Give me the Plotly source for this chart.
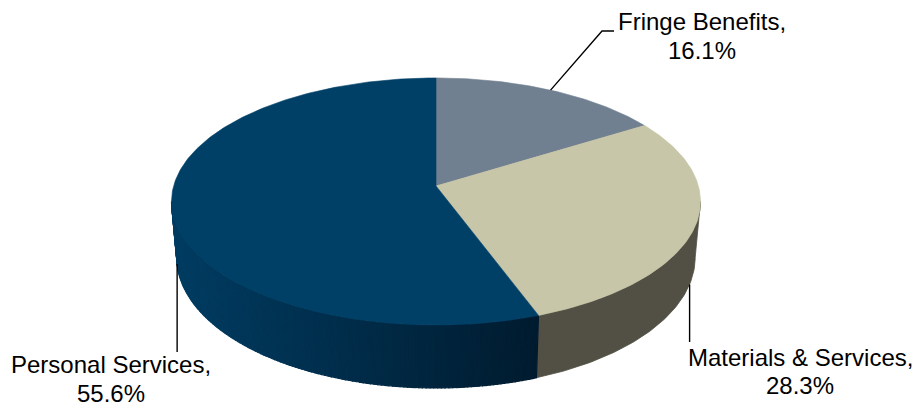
import numpy as np
import plotly.graph_objects as go

# ---- data -------------------------------------------------------------
categories = ["Fringe Benefits", "Materials & Services", "Personal Services"]
shares = [16.1, 28.3, 55.6]  # percent of total
top_colors = ["#718090", "#C8C6A8", "#003F66"]
side_colors = ["#4E5A66", "#525044", "#002B48"]

# ---- disc geometry (screen pixels, y grows downwards) ----------------
W, H = 917, 409
CX, CY = 436.0, 186.0     # projected centre of the disc
A, B = 262.4, 121.6       # radii before perspective
K = 0.1255                # perspective: far side of the disc shrinks
DEPTH = 55.0              # thickness of the disc
BOTTOM_SCALE = 0.98       # lower rim is slightly narrower


def top_pt(theta):
    """Point on the upper rim; theta in degrees clockwise from 12 o'clock."""
    t = np.radians(theta)
    u, v = np.sin(t), np.cos(t)
    w = 1 + K * v
    return CX + A * u / w, CY - B * v / w


def bottom_pt(theta):
    t = np.radians(theta)
    u, v = np.sin(t), np.cos(t)
    w = 1 + K * v
    return CX + BOTTOM_SCALE * A * u / w, CY - B * v / w + DEPTH / w


def arc(fn, t0, t1, n):
    ts = np.linspace(t0, t1, n)
    xs, ys = fn(ts)
    return list(xs), list(ys)


total = sum(shares)
bounds = np.concatenate([[0.0], np.cumsum(shares) / total * 360.0])
starts, ends = bounds[:-1], bounds[1:]
mids = (starts + ends) / 2

# angles where the side wall meets the outline (visible front half)
SIL_R = np.degrees(np.arccos(-K))
SIL_L = 360.0 - SIL_R

fig = go.Figure()


def poly(xs, ys, color, lw=0.8):
    fig.add_trace(go.Scatter(
        x=xs + [xs[0]], y=ys + [ys[0]], mode="lines", fill="toself",
        fillcolor=color, line=dict(color=color, width=lw),
        hoverinfo="skip", showlegend=False))


def lerp_rgb(c0, c1, f):
    f = min(max(f, 0.0), 1.0)
    return "rgb(%d,%d,%d)" % tuple(round(a + (b - a) * f) for a, b in zip(c0, c1))


# ---- side walls -------------------------------------------------------
for i, (s, e) in enumerate(zip(starts, ends)):
    a0, a1 = max(s, SIL_R), min(e, SIL_L)
    if a1 <= a0:
        continue
    if categories[i] == "Personal Services":
        # shaded wall: darker towards the front right
        n = 140
        edges = np.linspace(a0, a1, n + 1)
        for j in range(n):
            t0, t1 = edges[j], edges[j + 1]
            tx, ty = arc(top_pt, t0, t1, 3)
            bx, by = arc(bottom_pt, t1, t0, 3)
            xm = (tx[0] + tx[-1]) / 2
            f = (xm - 176.0) / (540.0 - 176.0)
            col = lerp_rgb((0, 60, 97), (0, 27, 47), f)
            poly(tx + bx, ty + by, col, lw=1.2)
    else:
        tx, ty = arc(top_pt, a0, a1, 80)
        bx, by = arc(bottom_pt, a1, a0, 80)
        poly(tx + bx, ty + by, side_colors[i])

# ---- top faces --------------------------------------------------------
for i, (s, e) in enumerate(zip(starts, ends)):
    n = max(int((e - s) * 1.5), 8)
    xs, ys = arc(top_pt, s, e, n)
    poly([CX] + xs, [CY] + ys, top_colors[i], lw=0.6)

# ---- leader lines -----------------------------------------------------
line_style = dict(color="black", width=1.4)
fx, fy = top_pt(mids[0])
fig.add_trace(go.Scatter(x=[fx, 602, 614], y=[fy, 31, 31], mode="lines",
                         line=line_style, hoverinfo="skip", showlegend=False))
mx, my = bottom_pt(mids[1])
fig.add_trace(go.Scatter(x=[mx, mx], y=[my, 342], mode="lines",
                         line=line_style, hoverinfo="skip", showlegend=False))
px, py = bottom_pt(mids[2])
fig.add_trace(go.Scatter(x=[px, px], y=[py, 352], mode="lines",
                         line=line_style, hoverinfo="skip", showlegend=False))

# ---- labels -----------------------------------------------------------
label_pos = {  # centre x, centre y of first line, line gap
    "Fringe Benefits": (702, 21, 29),
    "Materials & Services": (800, 357, 28),
    "Personal Services": (111, 364, 29),
}
font = dict(family="Liberation Sans, Arial, sans-serif", size=24, color="black")
for cat, val in zip(categories, shares):
    x0, y0, gap = label_pos[cat]
    for k, txt in enumerate([cat + ",", "%.1f%%" % val]):
        fig.add_annotation(x=x0, y=y0 + k * gap, text=txt, showarrow=False,
                           xanchor="center", yanchor="middle", font=font)

fig.update_xaxes(range=[0, W], visible=False, fixedrange=True)
fig.update_yaxes(range=[H, 0], visible=False, fixedrange=True)
fig.update_layout(width=W, height=H, margin=dict(l=0, r=0, t=0, b=0),
                  paper_bgcolor="white", plot_bgcolor="white",
                  showlegend=False)
fig.write_html("out.html")
